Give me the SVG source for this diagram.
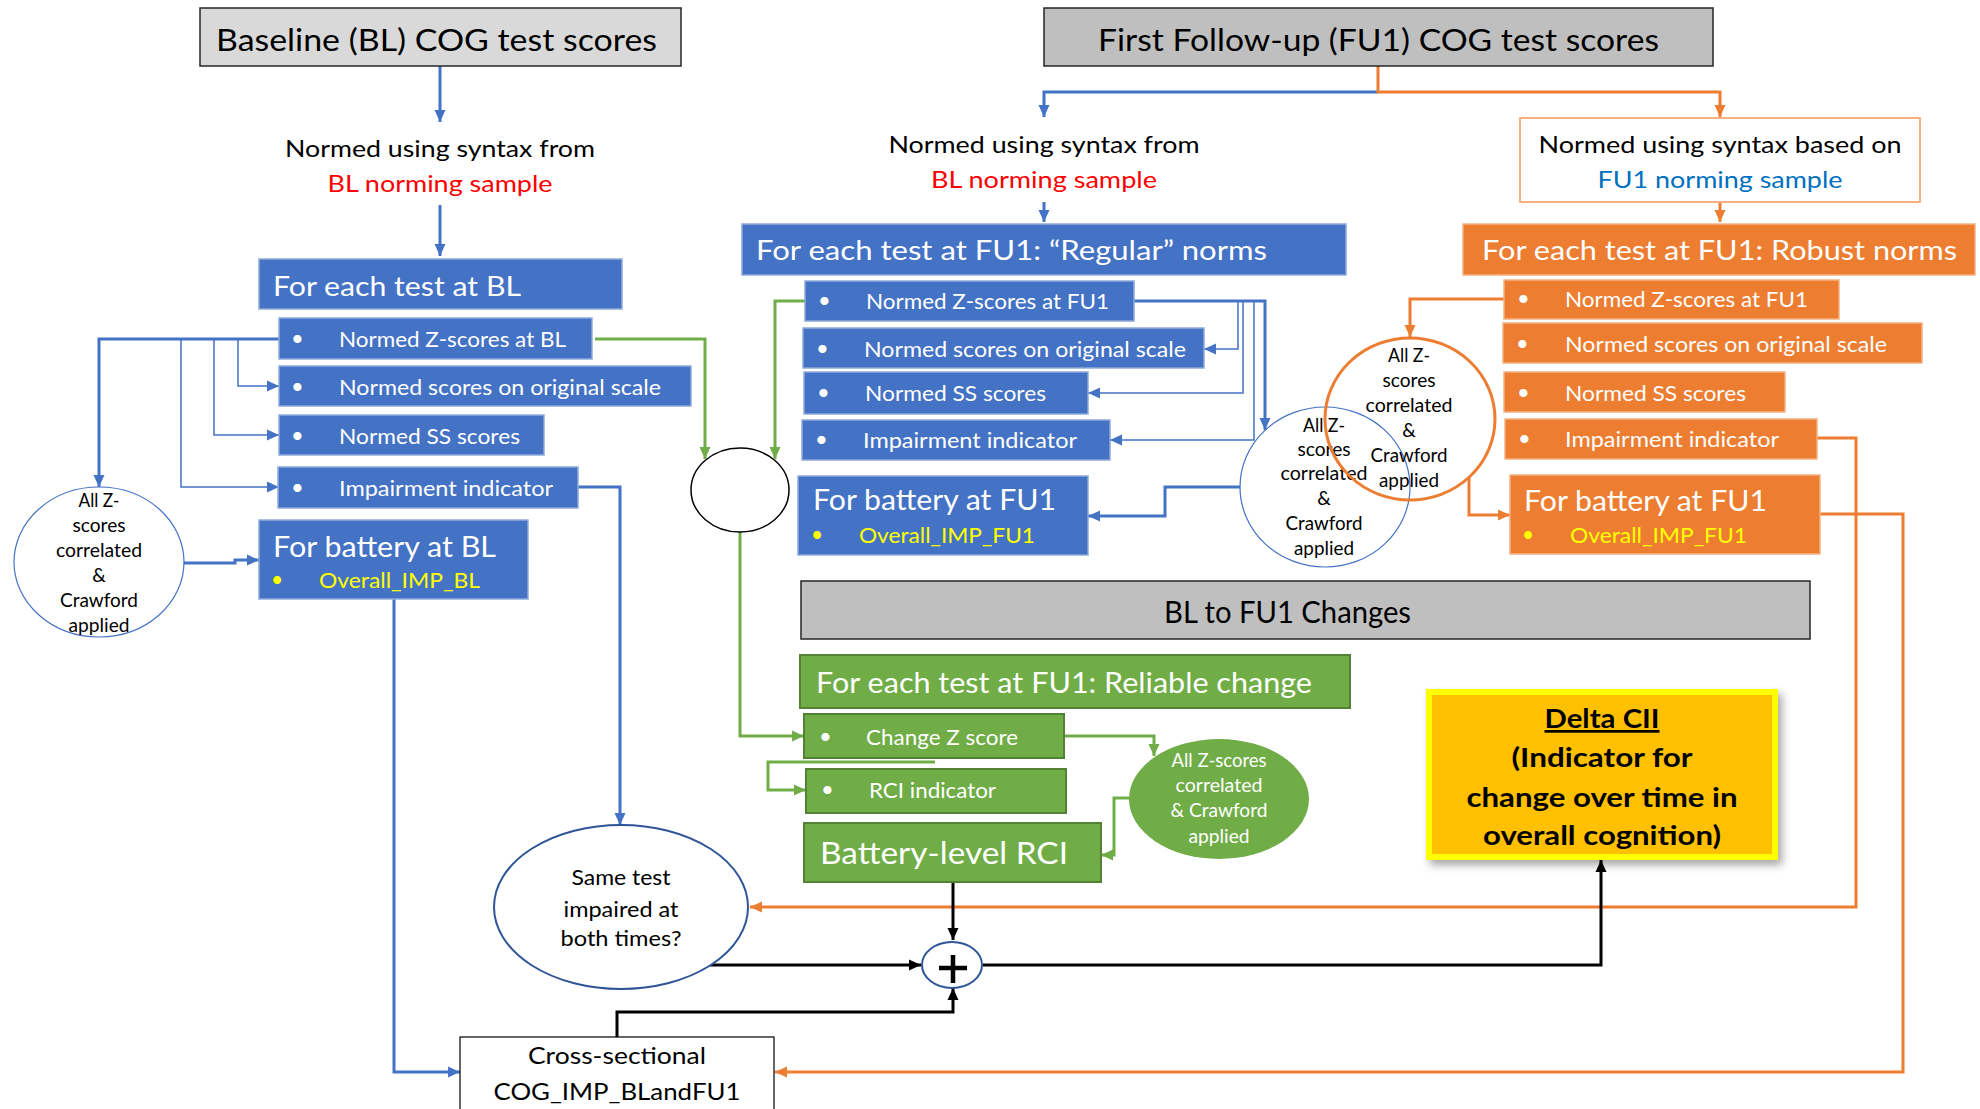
<svg xmlns="http://www.w3.org/2000/svg" width="1980" height="1109" viewBox="0 0 1980 1109">
<style>
text{font-family:Lato,"Liberation Sans","DejaVu Sans",sans-serif}
.c{text-anchor:middle}
.w{fill:#ffffff}
.k{fill:#000000}
.y{fill:#ffff00}
.bbox{fill:#4472c4;stroke:#8eaadb;stroke-width:1.5}
.obox{fill:#ed7d31;stroke:#f4b183;stroke-width:1.5}
.gbox{fill:#70ad47;stroke:#548235;stroke-width:2}
.gray{stroke:#262626;stroke-width:1.5}
.cb{fill:none;stroke:#4472c4;stroke-width:3}
.cbt{fill:none;stroke:#4472c4;stroke-width:1.5}
.co{fill:none;stroke:#ed7d31;stroke-width:3}
.cg{fill:none;stroke:#70ad47;stroke-width:3}
.ck{fill:none;stroke:#000000;stroke-width:3}
.f22{font-size:22px}
.f19{font-size:19px}
</style>
<defs>
<marker id="ab" viewBox="0 0 12 12" refX="12" refY="6" markerWidth="12" markerHeight="12" markerUnits="userSpaceOnUse" orient="auto"><path d="M0,0.5 L12,6 L0,11.5 z" fill="#4472c4"/></marker>
<marker id="ao" viewBox="0 0 12 12" refX="12" refY="6" markerWidth="12" markerHeight="12" markerUnits="userSpaceOnUse" orient="auto"><path d="M0,0.5 L12,6 L0,11.5 z" fill="#ed7d31"/></marker>
<marker id="ag" viewBox="0 0 12 12" refX="12" refY="6" markerWidth="12" markerHeight="12" markerUnits="userSpaceOnUse" orient="auto"><path d="M0,0.5 L12,6 L0,11.5 z" fill="#70ad47"/></marker>
<marker id="ak" viewBox="0 0 12 12" refX="12" refY="6" markerWidth="12" markerHeight="12" markerUnits="userSpaceOnUse" orient="auto"><path d="M0,0.5 L12,6 L0,11.5 z" fill="#000000"/></marker>
<filter id="sh" x="-10%" y="-10%" width="130%" height="130%"><feDropShadow dx="4" dy="5" stdDeviation="4" flood-color="#000" flood-opacity="0.35"/></filter>
</defs>
<rect width="1980" height="1109" fill="#ffffff"/>

<g id="connectors">
<!-- blue thick -->
<path class="cb" d="M440 66 V122" marker-end="url(#ab)"/>
<path class="cb" d="M440 205 V256" marker-end="url(#ab)"/>
<path class="cb" d="M279 339 H99 V487" marker-end="url(#ab)"/>
<path class="cb" d="M184 563 H235 V560 H259" marker-end="url(#ab)"/>
<path class="cb" d="M578 487 H620 V825" marker-end="url(#ab)"/>
<path class="cb" d="M394 599 V1072 H460" marker-end="url(#ab)"/>
<path class="cb" d="M1378 92 H1044 V117" marker-end="url(#ab)"/>
<path class="cb" d="M1044 202 V222" marker-end="url(#ab)"/>
<path class="cb" d="M1134 301 H1265 V430" marker-end="url(#ab)"/>
<path class="cb" d="M1240 487 H1165 V516 H1088" marker-end="url(#ab)"/>
<!-- blue thin -->
<path class="cbt" d="M238 339 V386 H279" marker-end="url(#ab)"/>
<path class="cbt" d="M214 339 V435 H279" marker-end="url(#ab)"/>
<path class="cbt" d="M181 339 V487 H279" marker-end="url(#ab)"/>
<path class="cbt" d="M1238 301 V349 H1204" marker-end="url(#ab)"/>
<path class="cbt" d="M1243 301 V393 H1088" marker-end="url(#ab)"/>
<path class="cbt" d="M1254 301 V440 H1110" marker-end="url(#ab)"/>
<!-- orange -->
<path class="co" d="M1378 66 V92 H1720 V117" marker-end="url(#ao)"/>
<path class="co" d="M1720 202 V222" marker-end="url(#ao)"/>
<path class="co" d="M1504 299 H1410 V337" marker-end="url(#ao)"/>
<path class="co" d="M1469 477 V515 H1510" marker-end="url(#ao)"/>
<path class="co" d="M1817 438 H1856 V907 H750" marker-end="url(#ao)"/>
<path class="co" d="M1820 514 H1903 V1072 H775" marker-end="url(#ao)"/>
<!-- green -->
<path class="cg" d="M595 339 H705 V459" marker-end="url(#ag)"/>
<path class="cg" d="M805 301 H775 V459" marker-end="url(#ag)"/>
<path class="cg" d="M740 532 V736 H804" marker-end="url(#ag)"/>
<path class="cg" d="M1064 736 H1154 V756" marker-end="url(#ag)"/>
<path class="cg" d="M1129 798 H1114 V855 H1101" marker-end="url(#ag)"/>
<path class="cg" d="M935 762 H768 V790 H806" marker-end="url(#ag)"/>
<!-- black -->
<path class="ck" d="M710 965 H921" marker-end="url(#ak)"/>
<path class="ck" d="M953 882 V940" marker-end="url(#ak)"/>
<path class="ck" d="M617 1037 V1012 H953 V988" marker-end="url(#ak)"/>
<path class="ck" d="M983 965 H1601 V860" marker-end="url(#ak)"/>
</g>

<g id="bl-scores">
<rect x="200" y="8" width="481" height="58" fill="#d9d9d9" class="gray"/>
<text x="216" y="51" font-size="30" textLength="441" lengthAdjust="spacingAndGlyphs" class="k">Baseline (BL) COG test scores</text>
</g>
<g id="bl-normed">
<text x="440" y="157" font-size="24" class="c k" textLength="310" lengthAdjust="spacingAndGlyphs">Normed using syntax from</text>
<text x="440" y="192" font-size="24" class="c" fill="#ff0000" textLength="225" lengthAdjust="spacingAndGlyphs">BL norming sample</text>
</g>
<g id="bl-each">
<rect x="259" y="259" width="363" height="50" class="bbox"/>
<text x="273" y="296" font-size="27" class="w" textLength="248" lengthAdjust="spacingAndGlyphs">For each test at BL</text>
</g>
<g id="bl-z">
<rect x="279" y="318" width="313" height="41" class="bbox"/>
<text x="291" y="346" class="w f22">•</text>
<text x="339" y="347" class="w f22" textLength="227" lengthAdjust="spacingAndGlyphs">Normed Z-scores at BL</text>
</g>
<g id="bl-orig">
<rect x="279" y="366" width="412" height="40" class="bbox"/>
<text x="291" y="394" class="w f22">•</text>
<text x="339" y="395" class="w f22" textLength="322" lengthAdjust="spacingAndGlyphs">Normed scores on original scale</text>
</g>
<g id="bl-ss">
<rect x="279" y="415" width="265" height="40" class="bbox"/>
<text x="291" y="443" class="w f22">•</text>
<text x="339" y="444" class="w f22" textLength="181" lengthAdjust="spacingAndGlyphs">Normed SS scores</text>
</g>
<g id="bl-imp">
<rect x="278" y="467" width="300" height="41" class="bbox"/>
<text x="291" y="495" class="w f22">•</text>
<text x="339" y="496" class="w f22" textLength="214" lengthAdjust="spacingAndGlyphs">Impairment indicator</text>
</g>
<g id="bl-battery">
<rect x="259" y="520" width="269" height="79" class="bbox"/>
<text x="273" y="557" font-size="28" class="w" textLength="223" lengthAdjust="spacingAndGlyphs">For battery at BL</text>
<text x="271" y="587" font-size="21" class="y">•</text>
<text x="319" y="588" font-size="21" class="y" textLength="161" lengthAdjust="spacingAndGlyphs">Overall_IMP_BL</text>
</g>
<g id="bl-corr">
<ellipse cx="99" cy="562" rx="85" ry="75" fill="none" stroke="#4472c4" stroke-width="1.2"/>
<text x="99" y="507" class="c k f19" textLength="41" lengthAdjust="spacingAndGlyphs">All Z-</text>
<text x="99" y="532" class="c k f19" textLength="53" lengthAdjust="spacingAndGlyphs">scores</text>
<text x="99" y="557" class="c k f19" textLength="86" lengthAdjust="spacingAndGlyphs">correlated</text>
<text x="99" y="582" class="c k f19">&amp;</text>
<text x="99" y="607" class="c k f19" textLength="78" lengthAdjust="spacingAndGlyphs">Crawford</text>
<text x="99" y="632" class="c k f19" textLength="61" lengthAdjust="spacingAndGlyphs">applied</text>
</g>
<g id="merge-circle">
<ellipse cx="740" cy="490" rx="49" ry="42" fill="#ffffff" stroke="#000" stroke-width="1.5"/>
</g>

<g id="fu1-scores">
<rect x="1044" y="8" width="669" height="58" fill="#bfbfbf" class="gray"/>
<text x="1098" y="51" font-size="30" class="k" textLength="561" lengthAdjust="spacingAndGlyphs">First Follow-up (FU1) COG test scores</text>
</g>
<g id="fu1-normed-bl">
<text x="1044" y="153" font-size="24" class="c k" textLength="311" lengthAdjust="spacingAndGlyphs">Normed using syntax from</text>
<text x="1044" y="188" font-size="24" class="c" fill="#ff0000" textLength="226" lengthAdjust="spacingAndGlyphs">BL norming sample</text>
</g>
<g id="fu1-normed-fu1">
<rect x="1520" y="118" width="400" height="84" fill="#ffffff" stroke="#f4b183" stroke-width="2"/>
<text x="1720" y="153" font-size="24" class="c k" textLength="363" lengthAdjust="spacingAndGlyphs">Normed using syntax based on</text>
<text x="1720" y="188" font-size="24" class="c" fill="#0070c0" textLength="245" lengthAdjust="spacingAndGlyphs">FU1 norming sample</text>
</g>
<g id="fu1-regular">
<rect x="742" y="224" width="604" height="51" class="bbox"/>
<text x="756" y="260" font-size="27" class="w" textLength="511" lengthAdjust="spacingAndGlyphs">For each test at FU1: “Regular” norms</text>
</g>
<g id="fu1-robust">
<rect x="1463" y="224" width="512" height="51" class="obox"/>
<text x="1482" y="260" font-size="27" class="w" textLength="475" lengthAdjust="spacingAndGlyphs">For each test at FU1: Robust norms</text>
</g>
<g id="fu1-z">
<rect x="805" y="281" width="329" height="40" class="bbox"/>
<text x="818" y="308" class="w f22">•</text>
<text x="866" y="309" class="w f22" textLength="243" lengthAdjust="spacingAndGlyphs">Normed Z-scores at FU1</text>
</g>
<g id="fu1-orig">
<rect x="803" y="328" width="401" height="40" class="bbox"/>
<text x="816" y="356" class="w f22">•</text>
<text x="864" y="357" class="w f22" textLength="322" lengthAdjust="spacingAndGlyphs">Normed scores on original scale</text>
</g>
<g id="fu1-ss">
<rect x="804" y="372" width="284" height="42" class="bbox"/>
<text x="817" y="400" class="w f22">•</text>
<text x="865" y="401" class="w f22" textLength="181" lengthAdjust="spacingAndGlyphs">Normed SS scores</text>
</g>
<g id="fu1-imp">
<rect x="802" y="420" width="308" height="40" class="bbox"/>
<text x="815" y="447" class="w f22">•</text>
<text x="863" y="448" class="w f22" textLength="214" lengthAdjust="spacingAndGlyphs">Impairment indicator</text>
</g>
<g id="fu1-battery">
<rect x="798" y="476" width="290" height="79" class="bbox"/>
<text x="813" y="510" font-size="28" class="w" textLength="243" lengthAdjust="spacingAndGlyphs">For battery at FU1</text>
<text x="811" y="542" font-size="21" class="y">•</text>
<text x="859" y="543" font-size="21" class="y" textLength="176" lengthAdjust="spacingAndGlyphs">Overall_IMP_FU1</text>
</g>
<g id="fu1-corr">
<ellipse cx="1325" cy="487" rx="85" ry="80" fill="none" stroke="#4472c4" stroke-width="1.2"/>
<text x="1324" y="432" class="c k f19" textLength="42" lengthAdjust="spacingAndGlyphs">All Z-</text>
<text x="1324" y="456" class="c k f19" textLength="53" lengthAdjust="spacingAndGlyphs">scores</text>
<text x="1324" y="480" class="c k f19" textLength="87" lengthAdjust="spacingAndGlyphs">correlated</text>
<text x="1324" y="505" class="c k f19">&amp;</text>
<text x="1324" y="530" class="c k f19" textLength="77" lengthAdjust="spacingAndGlyphs">Crawford</text>
<text x="1324" y="555" class="c k f19" textLength="60" lengthAdjust="spacingAndGlyphs">applied</text>
</g>

<g id="rob-z">
<rect x="1504" y="280" width="335" height="39" class="obox"/>
<text x="1517" y="306" class="w f22">•</text>
<text x="1565" y="307" class="w f22" textLength="243" lengthAdjust="spacingAndGlyphs">Normed Z-scores at FU1</text>
</g>
<g id="rob-orig">
<rect x="1503" y="323" width="419" height="40" class="obox"/>
<text x="1516" y="351" class="w f22">•</text>
<text x="1565" y="352" class="w f22" textLength="322" lengthAdjust="spacingAndGlyphs">Normed scores on original scale</text>
</g>
<g id="rob-ss">
<rect x="1504" y="372" width="281" height="40" class="obox"/>
<text x="1517" y="400" class="w f22">•</text>
<text x="1565" y="401" class="w f22" textLength="181" lengthAdjust="spacingAndGlyphs">Normed SS scores</text>
</g>
<g id="rob-imp">
<rect x="1505" y="419" width="312" height="40" class="obox"/>
<text x="1518" y="446" class="w f22">•</text>
<text x="1565" y="447" class="w f22" textLength="214" lengthAdjust="spacingAndGlyphs">Impairment indicator</text>
</g>
<g id="rob-battery">
<rect x="1510" y="475" width="310" height="79" class="obox"/>
<text x="1524" y="511" font-size="28" class="w" textLength="243" lengthAdjust="spacingAndGlyphs">For battery at FU1</text>
<text x="1522" y="542" font-size="21" class="y">•</text>
<text x="1570" y="543" font-size="21" class="y" textLength="177" lengthAdjust="spacingAndGlyphs">Overall_IMP_FU1</text>
</g>
<g id="rob-corr">
<ellipse cx="1410" cy="419" rx="85" ry="81" fill="none" stroke="#ed7d31" stroke-width="3"/>
<text x="1409" y="362" class="c k f19" textLength="42" lengthAdjust="spacingAndGlyphs">All Z-</text>
<text x="1409" y="387" class="c k f19" textLength="53" lengthAdjust="spacingAndGlyphs">scores</text>
<text x="1409" y="412" class="c k f19" textLength="87" lengthAdjust="spacingAndGlyphs">correlated</text>
<text x="1409" y="437" class="c k f19">&amp;</text>
<text x="1409" y="462" class="c k f19" textLength="77" lengthAdjust="spacingAndGlyphs">Crawford</text>
<text x="1409" y="487" class="c k f19" textLength="60" lengthAdjust="spacingAndGlyphs">applied</text>
</g>

<g id="changes">
<rect x="801" y="581" width="1009" height="58" fill="#bfbfbf" class="gray"/>
<text x="1164" y="623" font-size="30" class="k" textLength="247" lengthAdjust="spacingAndGlyphs">BL to FU1 Changes</text>
</g>
<g id="rc-each">
<rect x="800" y="655" width="550" height="53" class="gbox"/>
<text x="816" y="693" font-size="28" class="w" textLength="496" lengthAdjust="spacingAndGlyphs">For each test at FU1: Reliable change</text>
</g>
<g id="rc-z">
<rect x="804" y="714" width="260" height="44" class="gbox"/>
<text x="819" y="744" class="w f22">•</text>
<text x="866" y="745" class="w f22" textLength="152" lengthAdjust="spacingAndGlyphs">Change Z score</text>
</g>
<g id="rc-rci">
<rect x="806" y="769" width="260" height="44" class="gbox"/>
<text x="821" y="797" class="w f22">•</text>
<text x="869" y="798" class="w f22" textLength="127" lengthAdjust="spacingAndGlyphs">RCI indicator</text>
</g>
<g id="rc-battery">
<rect x="804" y="823" width="297" height="59" class="gbox"/>
<text x="820" y="864" font-size="30" class="w" textLength="248" lengthAdjust="spacingAndGlyphs">Battery-level RCI</text>
</g>
<g id="rc-corr">
<ellipse cx="1219" cy="799" rx="90" ry="60" fill="#70ad47"/>
<text x="1219" y="767" class="c w f19" textLength="95" lengthAdjust="spacingAndGlyphs">All Z-scores</text>
<text x="1219" y="792" class="c w f19" textLength="87" lengthAdjust="spacingAndGlyphs">correlated</text>
<text x="1219" y="817" class="c w f19" textLength="97" lengthAdjust="spacingAndGlyphs">&amp; Crawford</text>
<text x="1219" y="843" class="c w f19" textLength="61" lengthAdjust="spacingAndGlyphs">applied</text>
</g>
<g id="same-test">
<ellipse cx="621" cy="907" rx="127" ry="82" fill="#ffffff" stroke="#2f5597" stroke-width="2"/>
<text x="621" y="885" font-size="22" class="c k" textLength="99" lengthAdjust="spacingAndGlyphs">Same test</text>
<text x="621" y="917" font-size="22" class="c k" textLength="115" lengthAdjust="spacingAndGlyphs">impaired at</text>
<text x="621" y="946" font-size="22" class="c k" textLength="121" lengthAdjust="spacingAndGlyphs">both times?</text>
</g>
<g id="plus">
<ellipse cx="952" cy="965" rx="30" ry="23" fill="#ffffff" stroke="#2f5597" stroke-width="2"/>
<path d="M939 968 H967 M953 955 V983" stroke="#000" stroke-width="4.5" fill="none"/>
</g>
<g id="cross-sectional">
<rect x="460" y="1037" width="314" height="80" fill="#ffffff" stroke="#000" stroke-width="1.2"/>
<text x="617" y="1064" font-size="24" class="c k" textLength="178" lengthAdjust="spacingAndGlyphs">Cross-sectional</text>
<text x="617" y="1100" font-size="24" class="c k" textLength="247" lengthAdjust="spacingAndGlyphs">COG_IMP_BLandFU1</text>
</g>
<g id="delta-cii">
<rect x="1429" y="692" width="346" height="165" fill="#ffc000" stroke="#ffff00" stroke-width="6" filter="url(#sh)"/>
<text x="1602" y="728" font-size="27" font-weight="bold" class="c k" text-decoration="underline" textLength="115" lengthAdjust="spacingAndGlyphs">Delta CII</text>
<text x="1602" y="767" font-size="27" font-weight="bold" class="c k" textLength="181" lengthAdjust="spacingAndGlyphs">(Indicator for</text>
<text x="1602" y="807" font-size="27" font-weight="bold" class="c k" textLength="271" lengthAdjust="spacingAndGlyphs">change over time in</text>
<text x="1602" y="845" font-size="27" font-weight="bold" class="c k" textLength="238" lengthAdjust="spacingAndGlyphs">overall cognition)</text>
</g>
</svg>
